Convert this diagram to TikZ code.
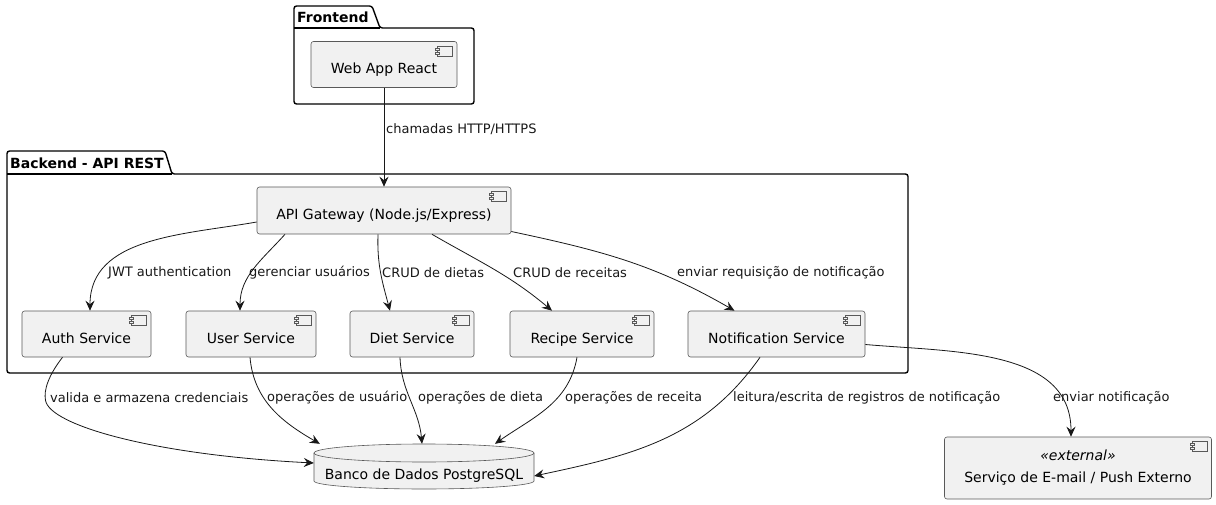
\documentclass[tikz,border=0pt]{standalone}
\usepackage{fontspec}
\setmainfont{DejaVu Sans}
\usetikzlibrary{arrows.meta,calc}
\definecolor{compfill}{HTML}{F1F1F1}
\definecolor{linecol}{HTML}{181818}
\begin{document}
\begin{tikzpicture}[x=1pt,y=1pt,
  comp/.style={draw=black!65, fill=compfill, rounded corners=2.5pt, line width=0.6pt,
    minimum height=46pt, font=\fontsize{14}{16}\selectfont, inner sep=0pt, text height=19pt, text depth=0pt},
  lbl/.style={font=\fontsize{13}{15}\selectfont, anchor=west, inner sep=0pt, text=linecol},
  arr/.style={draw=linecol, line width=0.8pt, -{Stealth[length=10pt,width=9pt,inset=3.5pt]}},
  pkg/.style={draw=black, line width=1.4pt, rounded corners=2.5pt},
  pkgtitle/.style={font=\bfseries\fontsize{14}{16}\selectfont, anchor=west, inner sep=0pt},
  icon/.style={draw=black!65, fill=compfill, line width=0.5pt},
]
\useasboundingbox (0,0) rectangle (1216,-505);

% packages
\draw[pkg] (294,-104) -- (294,-6) -- (372,-6) -- (380,-28) -- (474,-28) -- (474,-104) -- cycle;
\draw[pkg, rounded corners=0pt] (294,-28) -- (380,-28);
\node[pkgtitle] (tfront) at (297,-17) {Frontend};

\draw[pkg] (7,-373) -- (7,-151) -- (165,-151) -- (172,-174) -- (908,-174) -- (908,-373) -- cycle;
\draw[pkg, rounded corners=0pt] (7,-174) -- (172,-174);
\node[pkgtitle] (tback) at (10,-163) {Backend - API REST};

% components
\node[comp, minimum width=146pt] (web) at (384,-64.5) {Web App React};
\node[comp, minimum width=254pt, minimum height=47pt] (api) at (384,-210.5) {API Gateway (Node.js/Express)};
\node[comp, minimum width=129pt] (auth) at (86.5,-334) {Auth Service};
\node[comp, minimum width=130pt] (user) at (251,-334) {User Service};
\node[comp, minimum width=124pt] (diet) at (412,-334) {Diet Service};
\node[comp, minimum width=144pt] (recipe) at (582,-334) {Recipe Service};
\node[comp, minimum width=177pt] (notif) at (776.5,-334) {Notification Service};
\node[comp, minimum width=267pt, minimum height=62pt, align=center, text height=, text depth=,
      font=\fontsize{14}{22}\selectfont] (ext) at (1078,-468)
      {\textit{«external»}\\Serviço de E-mail / Push Externo};

\foreach \n in {web,api,auth,user,diet,recipe,notif,ext}{
  \draw[icon] ([xshift=-20pt,yshift=-5pt]\n.north east) rectangle ++(15,-10);
  \draw[icon] ([xshift=-22pt,yshift=-7pt]\n.north east) rectangle ++(4,-2);
  \draw[icon] ([xshift=-22pt,yshift=-11pt]\n.north east) rectangle ++(4,-2);
}

% database
\node[minimum width=220pt, minimum height=45pt, inner sep=0pt] (db) at (424,-466.5) {};
\draw[draw=black!65, fill=compfill, line width=0.6pt]
  (314,-453) arc[start angle=180, end angle=0, x radius=110, y radius=9]
  -- (534,-481) arc[start angle=0, end angle=-180, x radius=110, y radius=8] -- cycle;
\draw[draw=black!65, line width=0.6pt] (314,-453) arc[start angle=180, end angle=360, x radius=110, y radius=9];
\node[font=\fontsize{14}{16}\selectfont, inner sep=0pt] (dbtext) at (424,-476) {Banco de Dados PostgreSQL};

% connectors
\draw[arr] (web.south) -- (api.north);
\draw[arr] ([yshift=-11.5pt]api.west) to[out=190,in=90] ([xshift=3.5pt]auth.north);
\draw[arr] ([xshift=-99pt]api.south) to[out=228,in=90] ([xshift=-11pt]user.north);
\draw[arr] ([xshift=-6pt]api.south) to[out=268,in=105] ([xshift=-22pt]diet.north);
\draw[arr] ([xshift=48pt]api.south) to[out=-30,in=140] ([xshift=-30pt]recipe.north);
\draw[arr] ([yshift=-21pt]api.east) to[out=-12,in=150] ([xshift=-42pt]notif.north);

\draw[arr] ([xshift=-24pt]auth.south) .. controls +(-14,-18) and +(-2,10) .. ++(-17,-43)
  .. controls +(4,-25) and +(-160,8) .. ([yshift=3.5pt]db.west);
\draw[arr] ([xshift=-1pt]user.south) to[out=-85,in=150] ([xshift=6pt]db.north west);
\draw[arr] ([xshift=-12pt]diet.south) to[out=-88,in=95] ([xshift=-2pt]db.north);
\draw[arr] ([xshift=-5pt]recipe.south) to[out=-100,in=35] ([xshift=71pt]db.north);
\draw[arr] ([xshift=-16.5pt]notif.south) to[out=-125,in=12] ([yshift=-9.5pt]db.east);
\draw[arr] ([yshift=-10.5pt]notif.east) to[out=-5,in=90] ([xshift=-7pt]ext.north);

% labels
\node[lbl] (l1) at (386,-129) {chamadas HTTP/HTTPS};
\node[lbl] (l2) at (108,-273) {JWT authentication};
\node[lbl] (l3) at (249,-273) {gerenciar usuários};
\node[lbl] (l4) at (382,-273) {CRUD de dietas};
\node[lbl] (l5) at (513,-273) {CRUD de receitas};
\node[lbl] (l6) at (677,-273) {enviar requisição de notificação};
\node[lbl] (l7) at (50,-398) {valida e armazena credenciais};
\node[lbl] (l8) at (267,-398) {operações de usuário};
\node[lbl] (l9) at (418,-398) {operações de dieta};
\node[lbl] (l10) at (565,-398) {operações de receita};
\node[lbl] (l11) at (733,-398) {leitura/escrita de registros de notificação};
\node[lbl] (l12) at (1053,-398) {enviar notificação};
\end{tikzpicture}
\end{document}
